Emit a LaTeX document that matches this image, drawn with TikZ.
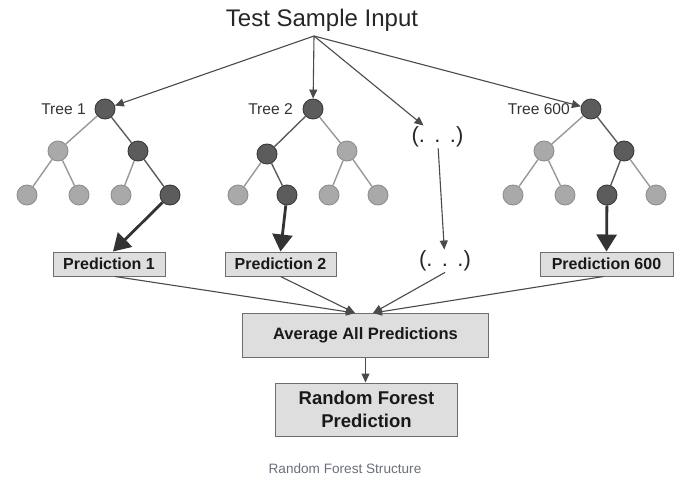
\documentclass[tikz,border=0pt]{standalone}
\usepackage{fontspec}
\setmainfont{Liberation Sans}
\usetikzlibrary{arrows.meta,calc}
\definecolor{dkfill}{HTML}{5C5C5C}
\definecolor{dkline}{HTML}{3A3A3A}
\definecolor{ltfill}{HTML}{A9A9A9}
\definecolor{ltline}{HTML}{8E8E8E}
\definecolor{boxfill}{HTML}{DEDEDE}
\definecolor{boxline}{HTML}{6E6E6E}
\definecolor{arrowc}{HTML}{4A4A4A}
\definecolor{capc}{HTML}{6B6F7A}
\tikzset{
  dk/.style={circle, minimum size=20pt, inner sep=0pt, fill=dkfill, draw=dkline, line width=0.9pt},
  lt/.style={circle, minimum size=20pt, inner sep=0pt, fill=ltfill, draw=ltline, line width=0.9pt},
  ledge/.style={draw=ltfill!90!black, line width=1.4pt},
  dedge/.style={draw=dkfill, line width=1.4pt},
  thinarrow/.style={draw=arrowc, line width=1.1pt, -{Triangle[length=9pt,width=8pt]}},
  thickarrow/.style={draw=black!80, line width=2.8pt, -{Triangle[length=17pt,width=20pt]}},
  pbox/.style={draw=boxline, fill=boxfill, line width=1pt, inner sep=0pt,
    minimum height=24pt, font=\bfseries\fontsize{16}{19}\selectfont, text=black!90},
  treelabel/.style={anchor=base east, inner sep=0pt, font=\fontsize{15.6}{18}\selectfont, text=black!80},
  dotsnode/.style={inner sep=1pt, font=\fontsize{22}{26}\selectfont, text=black!85}
}
\begin{document}
\begin{tikzpicture}[x=1pt,y=-1pt]
\useasboundingbox (0,0) rectangle (689,490);

% title
\node[anchor=base, inner sep=0pt, font=\fontsize{24}{28}\selectfont, text=black!85] (title) at (322,26.7) {Test Sample Input};
\coordinate (src) at (314,36);

% Tree 1
\node[dk] (a0) at (105,109) {};
\node[lt] (a1) at (58,151) {};
\node[dk] (a2) at (138,151) {};
\node[lt] (a3) at (27,195) {};
\node[lt] (a4) at (79,195) {};
\node[lt] (a5) at (121,195) {};
\node[dk] (a6) at (170,195) {};
\node[treelabel] (l1) at (86,114.3) {Tree 1};

% Tree 2
\node[dk] (b0) at (313,109) {};
\node[dk] (b1) at (267,154) {};
\node[lt] (b2) at (347,151) {};
\node[lt] (b3) at (238,195) {};
\node[dk] (b4) at (287,195) {};
\node[lt] (b5) at (329,195) {};
\node[lt] (b6) at (378,195) {};
\node[treelabel] (l2) at (293,114.3) {Tree 2};

% Tree 600
\node[dk] (c0) at (591,109) {};
\node[lt] (c1) at (544,151) {};
\node[dk] (c2) at (624,151) {};
\node[lt] (c3) at (513,195) {};
\node[lt] (c4) at (565,195) {};
\node[dk] (c5) at (607,195) {};
\node[lt] (c6) at (656,195) {};
\node[treelabel] (l3) at (570,114.3) {Tree 600};

% dots
\node[dotsnode] (d1) at (437.5,137) {(.\hspace{9.4pt}.\hspace{9.4pt}.)};
\node[dotsnode] (d2) at (445,261) {(.\hspace{9.4pt}.\hspace{9.4pt}.)};

% tree edges
\begin{scope}[on background layer/.style={}]
\draw[ledge] (a0) -- (a1);
\draw[dedge] (a0) -- (a2);
\draw[ledge] (a1) -- (a3);
\draw[ledge] (a1) -- (a4);
\draw[ledge] (a2) -- (a5);
\draw[dedge] (a2) -- (a6);

\draw[dedge] (b0) -- (b1);
\draw[ledge] (b0) -- (b2);
\draw[ledge] (b1) -- (b3);
\draw[dedge] (b1) -- (b4);
\draw[ledge] (b2) -- (b5);
\draw[ledge] (b2) -- (b6);

\draw[ledge] (c0) -- (c1);
\draw[dedge] (c0) -- (c2);
\draw[ledge] (c1) -- (c3);
\draw[ledge] (c1) -- (c4);
\draw[dedge] (c2) -- (c5);
\draw[ledge] (c2) -- (c6);
\end{scope}

% boxes
\node[pbox, minimum width=112pt] (p1) at (109,264) {Prediction 1};
\node[pbox, minimum width=111pt] (p2) at (280.5,264) {Prediction 2};
\node[pbox, minimum width=133pt] (p6) at (606.5,264) {Prediction 600};
\node[pbox, minimum width=246pt, minimum height=44pt, font=\bfseries\fontsize{16.5}{20}\selectfont] (avg) at (365.5,335) {Average All Predictions};
\node[pbox, minimum width=182pt, minimum height=53pt, align=center, font=\bfseries\fontsize{18.5}{23}\selectfont] (rf) at (366.5,409.5) {Random Forest\\Prediction};

% input arrows
\draw[thinarrow] (src) -- (a0);
\draw[thinarrow] (src) -- (b0);
\draw[thinarrow] (src) -- (d1);
\draw[thinarrow] (src) -- (c0);
\draw[thinarrow] (d1) -- (d2);

% thick arrows
\draw[thickarrow] (a6) -- ($(p1.north)+(4,0)$);
\draw[thickarrow] (b4) -- (p2.north);
\draw[thickarrow] (c5) -- (p6.north);

% to average
\coordinate (in1) at (355,313);
\coordinate (in2) at (373,313);
\draw[thinarrow] ($(p1.south)+(6,0)$) -- (in1);
\draw[thinarrow] (p2.south) -- (in1);
\draw[thinarrow] (d2.south) -- (in2);
\draw[thinarrow] ($(p6.south)+(-3,0)$) -- (in2);
\draw[thinarrow] (avg.south) -- (avg.south |- rf.north);

% caption
\node[inner sep=0pt, font=\fontsize{13.6}{16}\selectfont, text=capc] (cap) at (345,469) {Random Forest Structure};
\end{tikzpicture}
\end{document}
